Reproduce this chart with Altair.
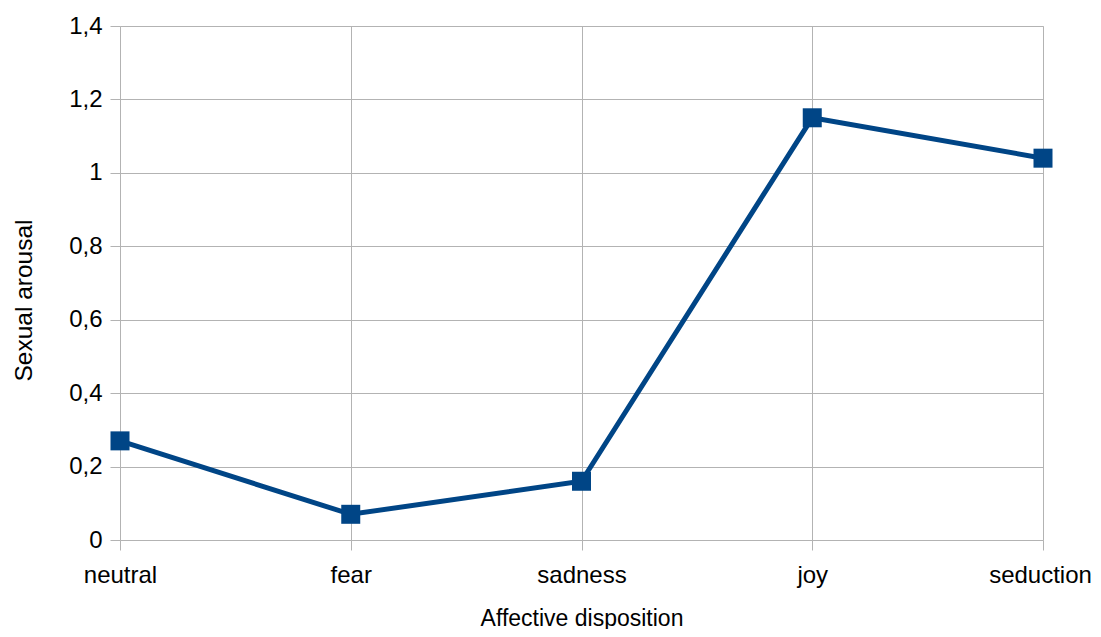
import altair as alt
import pandas as pd

categories = ["neutral", "fear", "sadness", "joy", "seduction"]
values = [0.27, 0.07, 0.16, 1.15, 1.04]
y_ticks = [0, 0.2, 0.4, 0.6, 0.8, 1.0, 1.2, 1.4]

df = pd.DataFrame({"cat": categories, "val": values})

FONT = "Liberation Sans"
GRID = "#b3b3b3"
COLOR = "#004586"

x = alt.X(
    "cat:N",
    sort=categories,
    scale=alt.Scale(type="point", padding=0),
    axis=alt.Axis(
        title="Affective disposition",
        labelAngle=0,
        labelFont=FONT,
        labelFontSize=24,
        labelColor="#000000",
        labelBaseline="alphabetic",
        labelPadding=32,
        labelOffset={"condition": {"test": "datum.value === 'seduction'", "value": -3}, "value": 0},
        titleFont=FONT,
        titleFontSize=23,
        titleFontWeight="normal",
        titleColor="#000000",
        titleBaseline="alphabetic",
        titleY=85,
        grid=True,
        gridColor=GRID,
        domain=False,
        ticks=True,
        tickColor=GRID,
        tickSize=10,
    ),
)
y = alt.Y(
    "val:Q",
    scale=alt.Scale(domain=[0, 1.4], nice=False, zero=True),
    axis=alt.Axis(
        title="Sexual arousal",
        values=y_ticks,
        labelExpr="replace(format(datum.value, '.1~f'), '.', ',')",
        labelFont=FONT,
        labelFontSize=24,
        labelColor="#000000",
        labelPadding=8,
        titleFont=FONT,
        titleFontSize=24.5,
        titleFontWeight="normal",
        titleColor="#000000",
        titleBaseline="middle",
        titleX=-96,
        titleY=274,
        grid=True,
        gridColor=GRID,
        domain=False,
        ticks=True,
        tickColor=GRID,
        tickSize=10,
    ),
)

line = alt.Chart(df).mark_line(color=COLOR, strokeWidth=5).encode(x=x, y=y)
pts = alt.Chart(df).mark_point(shape="square", filled=True, color=COLOR, size=361, opacity=1).encode(x=x, y=y)

chart = (
    alt.layer(line, pts)
    .properties(
        width=923,
        height=514,
        autosize=alt.AutoSizeParams(type="none"),
        padding={"left": 112, "top": 18, "right": 50, "bottom": 89},
    )
    .configure_view(stroke=None)
    .configure(background="#ffffff")
)

chart.save("out.html", embed_options={"renderer": "svg", "actions": False})
